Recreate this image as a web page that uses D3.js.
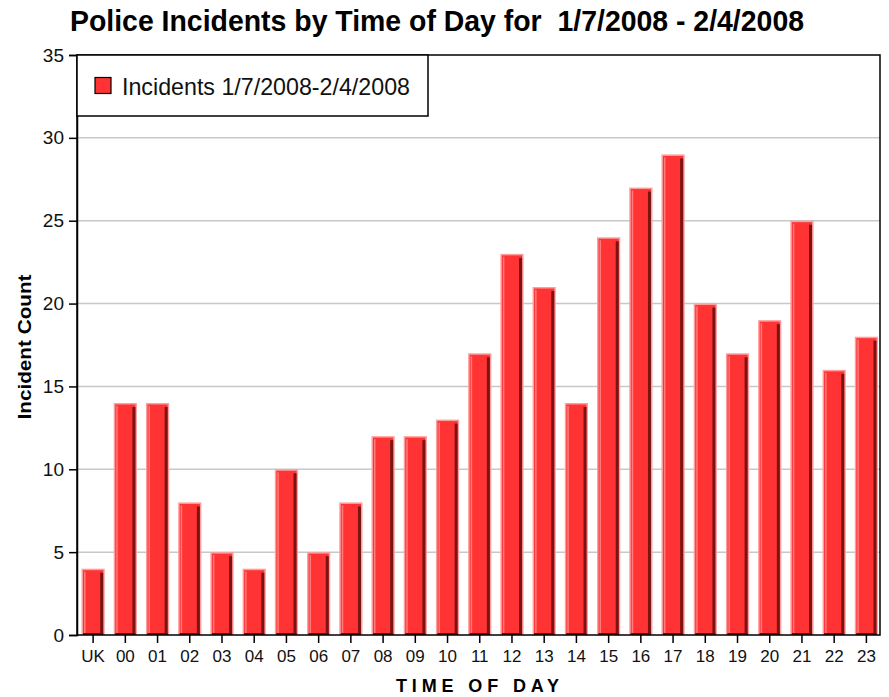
<!DOCTYPE html>
<html>
<head>
<meta charset="utf-8">
<script src="https://cdn.jsdelivr.net/npm/d3@7"></script>
<style>
  html, body { margin: 0; padding: 0; background: #fff; }
  svg { display: block; font-family: "Liberation Sans", Arial, sans-serif; }
  text { white-space: pre; }
</style>
</head>
<body>
<svg id="chart" width="889" height="697"></svg>
<script>
// ---- data ----
const categories = ["UK","00","01","02","03","04","05","06","07","08","09","10","11","12","13","14","15","16","17","18","19","20","21","22","23"];
const incidents = [4,14,14,8,5,4,10,5,8,12,12,13,17,23,21,14,24,27,29,20,17,19,25,16,18];
const yTicks = [0,5,10,15,20,25,30,35];
const titleText = "Police Incidents by Time of Day for  1/7/2008 - 2/4/2008";
const seriesName = "Incidents 1/7/2008-2/4/2008";
const yTitle = "Incident Count";
const xTitle = "TIME OF DAY";

// ---- layout ----
const plot = { left: 77, right: 880, top: 55, bottom: 635 };
const svg = d3.select("#chart");

const x = d3.scaleBand().domain(categories).range([77, 882.5]).paddingInner(0.28).paddingOuter(0.14);
const y = d3.scaleLinear().domain([0, 35]).range([plot.bottom, plot.top]);

// gridlines
svg.append("g").selectAll("line").data(yTicks.filter(t => t > 0 && t < 35)).join("line")
  .attr("x1", plot.left).attr("x2", plot.right)
  .attr("y1", d => y(d)).attr("y2", d => y(d))
  .attr("stroke", "#c8c8c8").attr("stroke-width", 1.5);

// bars
const data = categories.map((c, i) => ({ c, v: incidents[i] }));
const bars = svg.append("g").selectAll("g").data(data).join("g");
const bw = x.bandwidth();
bars.append("rect") // outer light rim
  .attr("x", d => x(d.c)).attr("y", d => y(d.v))
  .attr("width", bw).attr("height", d => y(0) - y(d.v))
  .attr("fill", "#ff9c9c");
bars.append("rect") // main fill
  .attr("x", d => x(d.c) + 1.5).attr("y", d => y(d.v) + 1.5)
  .attr("width", bw - 3).attr("height", d => y(0) - y(d.v) - 1.5)
  .attr("fill", "#ff3333");
bars.append("rect") // left highlight
  .attr("x", d => x(d.c) + 2.5).attr("y", d => y(d.v) + 3)
  .attr("width", 1.5).attr("height", d => Math.max(0, y(0) - y(d.v) - 3))
  .attr("fill", "#ff7a7a");
bars.append("rect") // right dark shade
  .attr("x", d => x(d.c) + bw - 4.5).attr("y", d => y(d.v) + 4)
  .attr("width", 3).attr("height", d => Math.max(0, y(0) - y(d.v) - 4))
  .attr("fill", "#7a1414");
bars.append("rect") // bottom dark
  .attr("x", d => x(d.c) + 1.5).attr("y", y(0) - 2)
  .attr("width", bw - 3).attr("height", 2)
  .attr("fill", "#6a1010");

// frame
svg.append("rect")
  .attr("x", plot.left).attr("y", plot.top)
  .attr("width", plot.right - plot.left).attr("height", plot.bottom - plot.top)
  .attr("fill", "none").attr("stroke", "#000").attr("stroke-width", 1.5);

// axes
const yAxis = svg.append("g").attr("transform", `translate(${plot.left},0)`)
  .call(d3.axisLeft(y).tickValues(yTicks).tickSize(8).tickPadding(5));
yAxis.attr("font-size", 19);
yAxis.select(".domain").attr("stroke", "#000").attr("stroke-width", 1.5);
yAxis.selectAll(".tick line").attr("stroke", "#000").attr("stroke-width", 1.5);
yAxis.selectAll("text").attr("font-size", 19).attr("fill", "#111")
  .attr("font-family", "Liberation Sans, Arial, sans-serif");

const xAxis = svg.append("g").attr("transform", `translate(0,${plot.bottom})`)
  .call(d3.axisBottom(x).tickSize(8).tickPadding(7));
xAxis.attr("font-size", 17);
xAxis.select(".domain").remove();
xAxis.selectAll(".tick line").attr("stroke", "#000").attr("stroke-width", 1.5);
xAxis.selectAll("text").attr("font-size", 17).attr("fill", "#111")
  .attr("font-family", "Liberation Sans, Arial, sans-serif");

// legend
const lg = svg.append("g");
lg.append("rect").attr("x", plot.left).attr("y", plot.top).attr("width", 351).attr("height", 61)
  .attr("fill", "#fff").attr("stroke", "#000").attr("stroke-width", 1.5);
lg.append("rect").attr("x", 95).attr("y", 77.5).attr("width", 16).attr("height", 16)
  .attr("fill", "#ff3333").attr("stroke", "#000").attr("stroke-width", 1.2);
lg.append("text").attr("x", 122).attr("y", 95).attr("font-size", 24)
  .attr("textLength", 288).attr("lengthAdjust", "spacingAndGlyphs")
  .attr("fill", "#111").text(seriesName);

// titles
svg.append("text").attr("x", 70).attr("y", 31).attr("font-size", 29).attr("font-weight", "bold")
  .attr("textLength", 734).attr("lengthAdjust", "spacingAndGlyphs")
  .attr("fill", "#000").text(titleText);

svg.append("text").attr("transform", `translate(31,${(plot.top + plot.bottom) / 2 + 2}) rotate(-90)`)
  .attr("text-anchor", "middle").attr("font-size", 19).attr("font-weight", "bold")
  .attr("textLength", 145).attr("lengthAdjust", "spacingAndGlyphs")
  .attr("fill", "#000").text(yTitle);

svg.append("text").attr("x", (plot.left + plot.right) / 2 - 1).attr("y", 692)
  .attr("text-anchor", "middle").attr("font-size", 18).attr("font-weight", "bold")
  .attr("textLength", 163).attr("lengthAdjust", "spacing")
  .attr("fill", "#000").text(xTitle);
</script>
</body>
</html>
